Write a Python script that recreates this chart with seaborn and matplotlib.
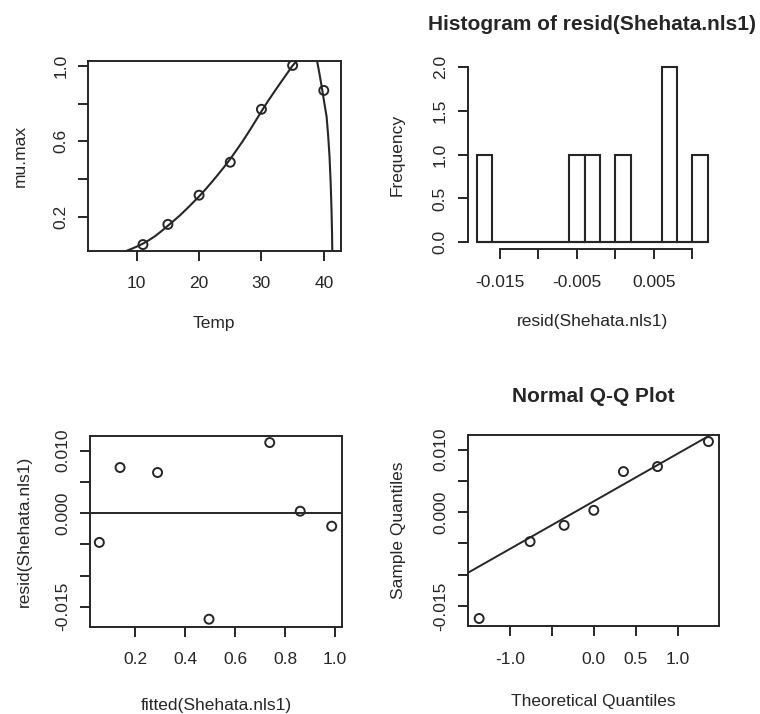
import numpy as np
import pandas as pd
import matplotlib
matplotlib.use("Agg")
import matplotlib.pyplot as plt
import seaborn as sns
from statistics import NormalDist

# ---------------- data ----------------
temp = [11, 15, 20, 25, 30, 35, 40]
mu_max = [0.052, 0.159, 0.314, 0.489, 0.770, 1.003, 0.870]
fitted = [0.056, 0.139, 0.289, 0.495, 0.738, 0.986, 0.860]
resid = [-0.0047, 0.0073, 0.0065, -0.0170, 0.0113, -0.0021, 0.0003]

# fitted model curve
curve_temp = [8.0, 8.4, 9.0, 10.0, 11.0, 12.0, 13.0, 14.0, 15.0, 16.0, 17.0,
              18.0, 19.0, 20.0, 21.0, 22.0, 23.0, 24.0, 25.0, 26.0, 27.0, 28.0,
              29.0, 30.0, 31.0, 32.0, 33.0, 34.0, 35.0, 35.7, 36.5, 37.3, 38.2,
              38.9, 39.3, 39.75, 40.1, 40.45, 40.7, 40.92, 41.1, 41.24, 41.32,
              41.37]
curve_mu = [0.010, 0.019, 0.027, 0.041, 0.057, 0.076, 0.098, 0.124, 0.152,
            0.180, 0.209, 0.241, 0.274, 0.3075, 0.344, 0.382, 0.422, 0.463,
            0.506, 0.553, 0.601, 0.652, 0.705, 0.759, 0.811, 0.860, 0.908,
            0.955, 1.002, 1.028, 1.050, 1.060, 1.055, 1.030, 0.960, 0.873,
            0.800, 0.731, 0.630, 0.518, 0.380, 0.235, 0.115, 0.000]

hist_breaks = [-0.018, -0.016, -0.014, -0.012, -0.010, -0.008, -0.006, -0.004,
               -0.002, 0.000, 0.002, 0.004, 0.006, 0.008, 0.010, 0.012]

tl_xticks, tl_xlabels = [10, 20, 30, 40], ["10", "20", "30", "40"]
tl_yticks, tl_ylabels = [0.2, 0.4, 0.6, 0.8, 1.0], ["0.2", "", "0.6", "", "1.0"]
tr_xticks = [-0.015, -0.010, -0.005, 0.0, 0.005, 0.010]
tr_xlabels = ["-0.015", "", "-0.005", "", "0.005", ""]
tr_yticks, tr_ylabels = [0, 0.5, 1.0, 1.5, 2.0], ["0.0", "0.5", "1.0", "1.5", "2.0"]
bl_xticks, bl_xlabels = [0.2, 0.4, 0.6, 0.8, 1.0], ["0.2", "0.4", "0.6", "0.8", "1.0"]
res_yticks = [-0.015, -0.010, -0.005, 0.0, 0.005, 0.010]
res_ylabels = ["-0.015", "", "", "0.000", "", "0.010"]
br_xticks, br_xlabels = [-1.0, -0.5, 0.0, 0.5, 1.0], ["-1.0", "", "0.0", "0.5", "1.0"]

# ---------------- style ----------------
sns.set_theme(style="ticks")
INK = "#262626"
plt.rcParams["font.family"] = ["Liberation Sans", "DejaVu Sans"]
plt.rcParams["text.color"] = INK
plt.rcParams["axes.edgecolor"] = INK
plt.rcParams["axes.labelcolor"] = INK
plt.rcParams["xtick.color"] = INK
plt.rcParams["ytick.color"] = INK
FS = 12.5
TFS = 15
TICKLEN = 7.2
LW = 1.4
MS = 42

W, H = 760, 714
fig = plt.figure(figsize=(W / 100, H / 100), dpi=100)
fig.patch.set_facecolor("white")


def make_axes(x0, y0, x1, y1):
    return fig.add_axes([x0 / W, 1 - y1 / H, (x1 - x0) / W, (y1 - y0) / H])


ax_tl = make_axes(88, 60.7, 340.7, 250.7)
ax_tr = make_axes(467.5, 59.7, 717, 249.3)
ax_bl = make_axes(90, 436, 341.7, 626.7)
ax_br = make_axes(468.3, 435, 719.3, 626)


def style_axes(ax, xticks, xlabels, yticks, ylabels, xlab, ylab, px_w, px_h,
               xlab_d, ylab_d, box=True):
    ax.set_facecolor("white")
    for s in ax.spines.values():
        s.set_linewidth(LW)
        s.set_color(INK)
        s.set_visible(box)
    ax.set_xticks(xticks)
    ax.set_xticklabels(xlabels, fontsize=FS)
    ax.set_yticks(yticks)
    ax.set_yticklabels(ylabels, fontsize=FS, rotation=90, va="baseline",
                       ha="center", rotation_mode="anchor")
    ax.tick_params(axis="both", direction="out", length=TICKLEN, width=LW,
                   colors=INK)
    ax.tick_params(axis="x", pad=11.3)
    ax.tick_params(axis="y", pad=9.1)
    ax.set_xlabel(xlab, fontsize=FS, va="baseline")
    ax.xaxis.set_label_coords(0.5, -xlab_d / px_h)
    ax.set_ylabel(ylab, fontsize=FS, va="baseline")
    ax.yaxis.set_label_coords(-ylab_d / px_w, 0.5)
    ax.grid(False)


# ---------------- top-left: data and fitted curve ----------------
sns.lineplot(x=curve_temp, y=curve_mu, estimator=None, sort=False, color=INK,
             linewidth=1.5, ax=ax_tl)
sns.scatterplot(x=temp, y=mu_max, marker="o", s=MS, facecolor="none",
                edgecolor=INK, linewidth=1.4, ax=ax_tl, zorder=3)
ax_tl.set_xlim(2.19, 42.71)
ax_tl.set_ylim(0.0194, 1.028)
style_axes(ax_tl, tl_xticks, tl_xlabels, tl_yticks, tl_ylabels, "Temp", "mu.max",
           252.7, 190, 77, 63)

# ---------------- top-right: histogram of residuals ----------------
sns.histplot(x=resid, bins=hist_breaks, stat="count", color="white", alpha=1,
             edgecolor=INK, linewidth=1.5, ax=ax_tr)
# zero-count bins still show their bottom edge, as in R's hist()
ax_tr.plot([hist_breaks[0], hist_breaks[-1]], [0, 0], color=INK, linewidth=1.5,
           solid_capstyle="butt")
ax_tr.set_xlim(-0.0192, 0.0132)
ax_tr.set_ylim(-0.08, 2.08)
style_axes(ax_tr, tr_xticks, tr_xlabels, tr_yticks, tr_ylabels,
           "resid(Shehata.nls1)", "Frequency", 249.5, 189.6, 77, 66, box=False)
ax_tr.spines["left"].set_visible(True)
ax_tr.spines["bottom"].set_visible(True)
ax_tr.spines["left"].set_bounds(0, 2.0)
ax_tr.spines["bottom"].set_bounds(-0.015, 0.010)
ax_tr.text(0.5, 1 + 30 / 189.6, "Histogram of resid(Shehata.nls1)",
           transform=ax_tr.transAxes, ha="center", va="baseline",
           fontsize=TFS, fontweight="bold", color=INK)

# ---------------- bottom-left: residuals vs fitted ----------------
sns.scatterplot(x=fitted, y=resid, marker="o", s=MS, facecolor="none",
                edgecolor=INK, linewidth=1.4, ax=ax_bl, zorder=3)
ax_bl.axhline(0, color=INK, linewidth=1.4)
ax_bl.set_xlim(0.0187, 1.026)
ax_bl.set_ylim(-0.0182, 0.01235)
style_axes(ax_bl, bl_xticks, bl_xlabels, res_yticks, res_ylabels,
           "fitted(Shehata.nls1)", "resid(Shehata.nls1)", 251.7, 190.7, 83, 61)

# ---------------- bottom-right: normal Q-Q plot ----------------
n = len(resid)
a = 3 / 8 if n <= 10 else 0.5
nd = NormalDist()
order = np.argsort(resid)
theo = np.empty(n)
for rank, idx in enumerate(order, start=1):
    theo[idx] = nd.inv_cdf((rank - a) / (n + 1 - 2 * a))
qq = pd.DataFrame({"theoretical": theo, "sample": resid})
sns.scatterplot(data=qq, x="theoretical", y="sample", marker="o", s=MS,
                facecolor="none", edgecolor=INK, linewidth=1.4, ax=ax_br,
                zorder=3)
yq = np.quantile(resid, [0.25, 0.75])
xq = [nd.inv_cdf(0.25), nd.inv_cdf(0.75)]
ax_br.axline((xq[0], yq[0]), (xq[1], yq[1]), color=INK, linewidth=1.4)
ax_br.set_xlim(-1.4936, 1.4936)
ax_br.set_ylim(-0.0182, 0.01235)
style_axes(ax_br, br_xticks, br_xlabels, res_yticks, res_ylabels,
           "Theoretical Quantiles", "Sample Quantiles", 251, 191, 80, 65)
ax_br.text(0.5, 1 + 33 / 191, "Normal Q-Q Plot", transform=ax_br.transAxes,
           ha="center", va="baseline", fontsize=TFS, fontweight="bold",
           color=INK)

fig.savefig("out.png", dpi=100, facecolor="white")
